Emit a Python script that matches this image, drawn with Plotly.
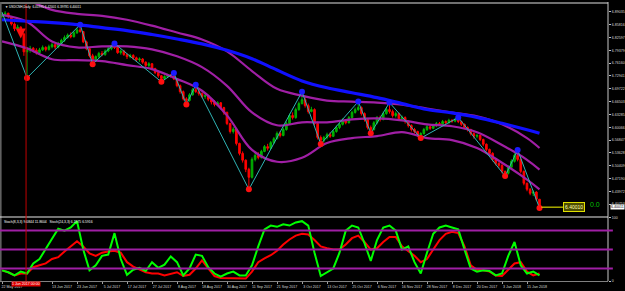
import plotly.graph_objects as go

# ---------------- data ----------------
first_open = 6.8790
closes = [
    6.8830, 6.8870, 6.8780, 6.8600, 6.8480, 6.8520, 6.8350, 6.7900, 6.7950, 6.7990,
    6.7940, 6.7880, 6.7950, 6.8010, 6.7960, 6.8030, 6.8080, 6.8020, 6.8110, 6.8190,
    6.8260, 6.8320, 6.8280, 6.8380, 6.8450, 6.8410, 6.8150, 6.7980, 6.7800, 6.7700,
    6.7780, 6.7860, 6.7830, 6.7920, 6.7980, 6.8050, 6.8010, 6.7880, 6.7920, 6.7830,
    6.7780, 6.7810, 6.7750, 6.7700, 6.7720, 6.7640, 6.7560, 6.7600, 6.7480, 6.7380,
    6.7300, 6.7230, 6.7280, 6.7320, 6.7290, 6.7220, 6.7050, 6.6900, 6.6720, 6.6680,
    6.6820, 6.6950, 6.6900, 6.6850, 6.6780, 6.6800, 6.6710, 6.6640, 6.6580, 6.6620,
    6.6500, 6.6380, 6.6100, 6.5900, 6.5960, 6.5600, 6.5350, 6.5180, 6.4950, 6.4750,
    6.5200, 6.5300, 6.5250, 6.5400, 6.5520, 6.5480, 6.5620, 6.5720, 6.5850, 6.5800,
    6.5950, 6.6100, 6.6300, 6.6250, 6.6450, 6.6600, 6.6700, 6.6550, 6.6400, 6.6450,
    6.6100, 6.5750, 6.5680, 6.5750, 6.5820, 6.5780, 6.5900, 6.6000, 6.6080, 6.6180,
    6.6120, 6.6250, 6.6380, 6.6450, 6.6500, 6.6350, 6.6200, 6.6000, 6.5950, 6.6120,
    6.6250, 6.6200, 6.6350, 6.6450, 6.6400, 6.6300, 6.6350, 6.6220, 6.6250, 6.6150,
    6.6050, 6.5950, 6.5900, 6.5800, 6.5850, 6.5950, 6.6020, 6.5980, 6.6050, 6.6100,
    6.6080, 6.6150, 6.6120, 6.6180, 6.6160, 6.6200, 6.6150, 6.6080, 6.6000, 6.5950,
    6.5850, 6.5780, 6.5800, 6.5700, 6.5580, 6.5450, 6.5350, 6.5200, 6.5100, 6.5050,
    6.4900, 6.4850, 6.5000, 6.5150, 6.5300, 6.5200, 6.4900, 6.4600, 6.4450, 6.4350,
    6.4380, 6.41995, 6.40011]
highs = [
    6.8895, 6.8920, 6.8880, 6.8800, 6.8640, 6.8580, 6.8540, 6.8380, 6.8020, 6.8050,
    6.8020, 6.7990, 6.8000, 6.8060, 6.8040, 6.8080, 6.8120, 6.8110, 6.8150, 6.8230,
    6.8310, 6.8360, 6.8390, 6.8420, 6.8500, 6.8582, 6.8420, 6.8180, 6.8010, 6.7850,
    6.7810, 6.7900, 6.7920, 6.7960, 6.8030, 6.8080, 6.8111, 6.8040, 6.7960, 6.7950,
    6.7860, 6.7850, 6.7840, 6.7780, 6.7760, 6.7740, 6.7660, 6.7640, 6.7620, 6.7500,
    6.7410, 6.7320, 6.7310, 6.7350, 6.7340, 6.7368, 6.7240, 6.7080, 6.6930, 6.6760,
    6.6860, 6.6990, 6.7071, 6.6950, 6.6880, 6.6850, 6.6820, 6.6740, 6.6690, 6.6660,
    6.6640, 6.6520, 6.6400, 6.6120, 6.6010, 6.5980, 6.5620, 6.5400, 6.5200, 6.4990,
    6.5250, 6.5360, 6.5380, 6.5440, 6.5560, 6.5590, 6.5660, 6.5760, 6.5900, 6.5910,
    6.6000, 6.6150, 6.6350, 6.6380, 6.6500, 6.6650, 6.6898, 6.6780, 6.6600, 6.6520,
    6.6480, 6.6150, 6.5800, 6.5790, 6.5870, 6.5880, 6.5940, 6.6050, 6.6120, 6.6230,
    6.6210, 6.6290, 6.6420, 6.6500, 6.6650, 6.6530, 6.6380, 6.6220, 6.6050, 6.6160,
    6.6290, 6.6300, 6.6400, 6.6500, 6.6626, 6.6450, 6.6400, 6.6380, 6.6300, 6.6280,
    6.6180, 6.6080, 6.5990, 6.5920, 6.5880, 6.5990, 6.6060, 6.6050, 6.6090, 6.6140,
    6.6140, 6.6190, 6.6180, 6.6220, 6.6210, 6.6240, 6.6254, 6.6170, 6.6100, 6.6030,
    6.5970, 6.5880, 6.5840, 6.5820, 6.5720, 6.5600, 6.5470, 6.5380, 6.5220, 6.5130,
    6.5080, 6.4920, 6.5050, 6.5200, 6.5350, 6.5437, 6.5230, 6.4920, 6.4620, 6.4480,
    6.4420, 6.4400, 6.42001]
lows = [
    6.8760, 6.8790, 6.8740, 6.8560, 6.8420, 6.8430, 6.8300, 6.7800, 6.7245, 6.7880,
    6.7890, 6.7830, 6.7850, 6.7920, 6.7910, 6.7930, 6.7990, 6.7970, 6.7990, 6.8080,
    6.8150, 6.8230, 6.8240, 6.8260, 6.8350, 6.8380, 6.8120, 6.7940, 6.7760, 6.7591,
    6.7650, 6.7740, 6.7790, 6.7800, 6.7890, 6.7940, 6.7970, 6.7850, 6.7830, 6.7800,
    6.7720, 6.7740, 6.7700, 6.7660, 6.7650, 6.7600, 6.7520, 6.7510, 6.7440, 6.7340,
    6.7250, 6.7146, 6.7190, 6.7240, 6.7250, 6.7190, 6.7010, 6.6850, 6.6680, 6.6576,
    6.6650, 6.6800, 6.6870, 6.6800, 6.6740, 6.6720, 6.6660, 6.6580, 6.6530, 6.6540,
    6.6460, 6.6320, 6.6060, 6.5850, 6.5850, 6.5550, 6.5300, 6.5120, 6.4880, 6.4447,
    6.4720, 6.5150, 6.5200, 6.5220, 6.5380, 6.5420, 6.5460, 6.5590, 6.5700, 6.5750,
    6.5780, 6.5920, 6.6080, 6.6200, 6.6220, 6.6420, 6.6580, 6.6500, 6.6350, 6.6380,
    6.6050, 6.5700, 6.5586, 6.5620, 6.5700, 6.5740, 6.5760, 6.5870, 6.5960, 6.6050,
    6.6080, 6.6100, 6.6220, 6.6350, 6.6420, 6.6300, 6.6150, 6.5950, 6.5858, 6.5920,
    6.6080, 6.6150, 6.6180, 6.6320, 6.6350, 6.6250, 6.6250, 6.6180, 6.6180, 6.6100,
    6.6000, 6.5900, 6.5850, 6.5760, 6.5734, 6.5820, 6.5910, 6.5940, 6.5960, 6.6010,
    6.6040, 6.6060, 6.6080, 6.6100, 6.6120, 6.6130, 6.6110, 6.6040, 6.5960, 6.5900,
    6.5800, 6.5720, 6.5730, 6.5660, 6.5530, 6.5400, 6.5300, 6.5150, 6.5050, 6.4980,
    6.4850, 6.4780, 6.4820, 6.4980, 6.5120, 6.5150, 6.4850, 6.4550, 6.4400, 6.4300,
    6.4280, 6.4150, 6.39781]

# indicator lines sampled every 8 bars (last at bar 172)
line_idx = [0, 8, 16, 24, 32, 40, 48, 56, 64, 72, 80, 88, 96, 104, 112, 120,
            128, 136, 144, 152, 160, 168, 172]
ma_blue = [6.8705, 6.8668, 6.8631, 6.8582, 6.8507, 6.8433, 6.8334, 6.8223, 6.8099,
           6.7938, 6.7727, 6.7443, 6.7170, 6.6997, 6.6873, 6.6749, 6.6601, 6.6452,
           6.6366, 6.6254, 6.6106, 6.5945, 6.5858]
band_upper = [6.9349, 6.9201, 6.8953, 6.8854, 6.8804, 6.8705, 6.8557, 6.8384, 6.8210,
              6.7913, 6.7418, 6.6972, 6.6799, 6.6675, 6.6651, 6.6626, 6.6576, 6.6477,
              6.6378, 6.6279, 6.6081, 6.5735, 6.5487]
band_mid = [6.8829, 6.8656, 6.8161, 6.8012, 6.8037, 6.8037, 6.7963, 6.7789, 6.7517,
            6.7047, 6.6378, 6.6056, 6.6130, 6.6130, 6.6205, 6.6229, 6.6180, 6.6081,
            6.6031, 6.5883, 6.5561, 6.5190, 6.4942]
band_lower = [6.8161, 6.7987, 6.7715, 6.7690, 6.7666, 6.7566, 6.7467, 6.7220, 6.6923,
              6.6304, 6.5438, 6.5140, 6.5239, 6.5611, 6.5735, 6.5784, 6.5883, 6.5735,
              6.5685, 6.5487, 6.5115, 6.4694, 6.4447]

# zigzag swing bars (H = swing high, L = swing low)
zz_idx = [0, 8, 25, 29, 36, 51, 55, 59, 62, 79, 96, 102, 114, 118, 124, 134, 146, 161, 165, 172]
zz_kind = ["H", "L", "H", "L", "H", "L", "H", "L", "H", "L", "H", "L", "H", "L", "H", "L",
           "H", "L", "H", "L"]

# sell-arrow object on the chart
arrow_bar = 6
arrow_price = 6.8235

# stochastic values every 2 bars
stoch_idx = list(range(0, 173, 2))
stoch_fast = [17, 14, 9, 15, 12, 28, 35, 50, 67, 83,
              80, 85, 95, 50, 17, 25, 40, 42, 76, 35,
              10, 18, 21, 16, 30, 21, 26, 39, 30, 9,
              20, 42, 40, 22, 12, 7, 12, 15, 9, 9,
              25, 55, 82, 88, 86, 90, 88, 93, 95, 88,
              45, 8, 14, 20, 45, 80, 88, 85, 60, 32,
              65, 85, 88, 80, 50, 55, 30, 12, 45, 75,
              85, 88, 85, 82, 50, 20, 15, 17, 16, 9,
              12, 40, 62, 25, 12, 15, 9]
stoch_slow = [17, 14, 9, 12, 12, 22, 25, 28, 35, 38,
              47, 55, 63, 55, 44, 40, 45, 47, 48, 45,
              30, 23, 18, 14, 12, 12, 9, 12, 14, 8,
              10, 20, 33, 20, 8, 5, 5, 5, 4, 4,
              15, 30, 36, 41, 48, 58, 66, 72, 75, 74,
              65, 55, 52, 50, 50, 58, 68, 72, 62, 50,
              52, 62, 70, 70, 55, 48, 40, 30, 35, 50,
              65, 75, 78, 76, 55, 25, 18, 17, 15, 9,
              8, 18, 28, 30, 15, 9, 12]
stoch_levels = [20, 50, 80]

date_bars = [0, 8, 16, 24, 32, 40, 48, 56, 64, 72, 80, 88, 96, 104, 112, 120, 128,
             136, 144, 152, 160, 168]
date_labels = ["22 May 2017", "", "13 Jun 2017", "23 Jun 2017", "5 Jul 2017",
               "17 Jul 2017", "27 Jul 2017", "8 Aug 2017", "18 Aug 2017", "30 Aug 2017",
               "11 Sep 2017", "21 Sep 2017", "3 Oct 2017", "13 Oct 2017", "25 Oct 2017",
               "6 Nov 2017", "16 Nov 2017", "28 Nov 2017", "8 Dec 2017", "20 Dec 2017",
               "3 Jan 2018", "15 Jan 2018"]
price_ticks = [6.89035, 6.85816, 6.82597, 6.79379, 6.76160, 6.72941, 6.69722, 6.66503,
               6.63285, 6.60066, 6.56847, 6.53628, 6.50409, 6.47190, 6.43972, 6.40753]

title_text = "\u25bc USDCNH,Daily  6.41995 6.42001 6.39781 6.40011"
stoch_text = "Stoch(8,3,3) 9.0844 11.8604   Stoch(24,3,3) 6.1975 6.5916"
last_price = 6.40011
label_price = "6.40010"
vline_bar = 7.7
vline_label = "1 Jun 2017 00:00"

# ---------------- figure ----------------
W, H = 625, 291
n = len(closes)
idx = list(range(n))
opens = [first_open] + closes[:-1]

fig = go.Figure()

fig.add_trace(go.Candlestick(
    x=idx, open=opens, high=highs, low=lows, close=closes,
    xaxis="x", yaxis="y", whiskerwidth=0,
    increasing=dict(line=dict(color="#00b400", width=1), fillcolor="#00a000"),
    decreasing=dict(line=dict(color="#ff0000", width=1), fillcolor="#ff0000"),
    showlegend=False, hoverinfo="skip"))

purple = "#a01fa5"
for band in (band_upper, band_mid, band_lower):
    fig.add_trace(go.Scatter(x=line_idx, y=band, mode="lines", xaxis="x", yaxis="y",
                             line=dict(color=purple, width=2.2, shape="spline"),
                             showlegend=False, hoverinfo="skip"))
fig.add_trace(go.Scatter(x=line_idx, y=ma_blue, mode="lines", xaxis="x", yaxis="y",
                         line=dict(color="#1010ff", width=3.2, shape="spline"),
                         showlegend=False, hoverinfo="skip"))

zz_y = [highs[i] if k == "H" else lows[i] for i, k in zip(zz_idx, zz_kind)]
fig.add_trace(go.Scatter(x=zz_idx, y=zz_y, mode="lines", xaxis="x", yaxis="y",
                         line=dict(color="#2fb4b4", width=1),
                         showlegend=False, hoverinfo="skip"))
hx = [i for i, k in zip(zz_idx[1:], zz_kind[1:]) if k == "H"]
hy = [highs[i] for i in hx]
lx = [i for i, k in zip(zz_idx[1:], zz_kind[1:]) if k == "L"]
ly = [lows[i] for i in lx]
fig.add_trace(go.Scatter(x=hx, y=hy, mode="markers", xaxis="x", yaxis="y",
                         marker=dict(color="#1a1aff", size=6), showlegend=False,
                         hoverinfo="skip"))
fig.add_trace(go.Scatter(x=lx, y=ly, mode="markers", xaxis="x", yaxis="y",
                         marker=dict(color="#ff1010", size=6), showlegend=False,
                         hoverinfo="skip"))
fig.add_trace(go.Scatter(x=[arrow_bar], y=[arrow_price], mode="markers", xaxis="x",
                         yaxis="y", marker=dict(color="#ff1010", size=10,
                                                symbol="arrow-down"),
                         showlegend=False, hoverinfo="skip"))

# stochastic panel
fig.add_trace(go.Scatter(x=stoch_idx, y=stoch_slow, mode="lines", xaxis="x2", yaxis="y2",
                         line=dict(color="#ff0000", width=2),
                         showlegend=False, hoverinfo="skip"))
fig.add_trace(go.Scatter(x=stoch_idx, y=stoch_fast, mode="lines", xaxis="x2", yaxis="y2",
                         line=dict(color="#00ff00", width=2),
                         showlegend=False, hoverinfo="skip"))

def py(px):
    return 1 - px / H

x_px0, bar_px = 2.0, 3.125
plot_w = 608
x_lo = -x_px0 / bar_px
x_hi = x_lo + plot_w / bar_px

main_dom = [py(217), py(2)]
stoch_dom = [py(283), py(219)]
p_top = 6.91511 - 0.002476 * 2
p_bot = 6.91511 - 0.002476 * 217

tickfont = dict(family="Liberation Sans", size=3.6, color="#d8d8d8")

fig.update_layout(
    width=W, height=H, margin=dict(l=0, r=W - plot_w, t=0, b=0, pad=0),
    paper_bgcolor="black", plot_bgcolor="black", boxgap=0.25,
    showlegend=False,
    xaxis=dict(domain=[0, 1], range=[x_lo, x_hi], anchor="y", showticklabels=False,
               showgrid=False, zeroline=False, rangeslider=dict(visible=False),
               fixedrange=True),
    xaxis2=dict(domain=[0, 1], range=[x_lo, x_hi], anchor="y2", matches="x",
                tickmode="array", tickvals=date_bars, ticktext=date_labels,
                ticks="outside", ticklen=2, tickcolor="#a0a0a0", tickfont=tickfont,
                ticklabelshift=10, showgrid=False, zeroline=False,
                showline=True, linecolor="#808080", linewidth=1),
    yaxis=dict(domain=main_dom, range=[p_bot, p_top], anchor="x", side="right",
               tickmode="array", tickvals=price_ticks,
               ticktext=[f"{v:.5f}" for v in price_ticks],
               ticks="outside", ticklen=2, tickcolor="#c0c0c0", tickfont=tickfont,
               showgrid=False, zeroline=False, showline=False),
    yaxis2=dict(domain=stoch_dom, range=[0, 100], anchor="x2", side="right",
                tickmode="array", tickvals=[0, 100], ticktext=["0", "100"],
                ticks="outside", ticklen=2, tickcolor="#c0c0c0", tickfont=tickfont,
                showgrid=False, zeroline=False, showline=False),
)

shapes = []
# frame lines
shapes.append(dict(type="line", xref="paper", yref="paper", x0=0, x1=1, y0=py(1), y1=py(1),
                   line=dict(color="#707070", width=2)))
shapes.append(dict(type="line", xref="paper", yref="paper", x0=0.001, x1=0.001, y0=py(283), y1=1,
                   line=dict(color="#606060", width=2)))
shapes.append(dict(type="line", xref="paper", yref="paper", x0=1, x1=1, y0=py(283), y1=1,
                   line=dict(color="#c8c8c8", width=1)))
shapes.append(dict(type="line", xref="paper", yref="paper", x0=0, x1=1, y0=py(218), y1=py(218),
                   line=dict(color="#e8e8e8", width=1)))
# stochastic levels
for lv in stoch_levels:
    shapes.append(dict(type="line", xref="paper", yref="y2", x0=0, x1=1.008, y0=lv, y1=lv,
                       line=dict(color=purple, width=2)))
# vertical line object
shapes.append(dict(type="line", xref="x", yref="paper", x0=vline_bar, x1=vline_bar,
                   y0=py(283), y1=py(2), line=dict(color="#c00000", width=1)))
# last price line
shapes.append(dict(type="line", xref="x", yref="y", x0=n - 0.4, x1=179.5,
                   y0=last_price, y1=last_price, line=dict(color="#ffff00", width=1)))
fig.update_layout(shapes=shapes)

ann = [
    dict(text=title_text, xref="paper", yref="paper", x=3 / plot_w, y=py(1.5),
         xanchor="left", yanchor="top", showarrow=False,
         font=dict(family="Liberation Sans", size=3.2, color="#ffffff")),
    dict(text=stoch_text, xref="paper", yref="paper", x=2 / plot_w, y=py(219.5),
         xanchor="left", yanchor="top", showarrow=False,
         font=dict(family="Liberation Sans", size=3.4, color="#ffffff")),
    dict(text=label_price, xref="x", yref="y", x=179.5, y=last_price,
         xanchor="left", yanchor="middle", showarrow=False, bgcolor="#4d4d00",
         bordercolor="#e0e000", borderwidth=1, borderpad=1,
         font=dict(family="Liberation Sans", size=5, color="#ffffb0")),
    dict(text="0.0", xref="x", yref="y", x=187.6, y=last_price + 0.0075,
         xanchor="left", yanchor="middle", showarrow=False,
         font=dict(family="Liberation Sans", size=7, color="#00c000")),
    dict(text=f"{last_price:.5f}", xref="paper", yref="y", x=1.003, y=last_price,
         xanchor="left", yanchor="middle", showarrow=False, bgcolor="#ffffff",
         borderpad=0, font=dict(family="Liberation Sans", size=3.6, color="#000000")),
    dict(text=vline_label, xref="x", yref="paper", x=vline_bar, y=py(286),
         xanchor="center", yanchor="middle", showarrow=False, bgcolor="#e00000",
         borderpad=0, font=dict(family="Liberation Sans", size=3.6, color="#ffffff")),
]
fig.update_layout(annotations=ann)

fig.write_html("out.html", include_plotlyjs=True, config={"displayModeBar": False})
